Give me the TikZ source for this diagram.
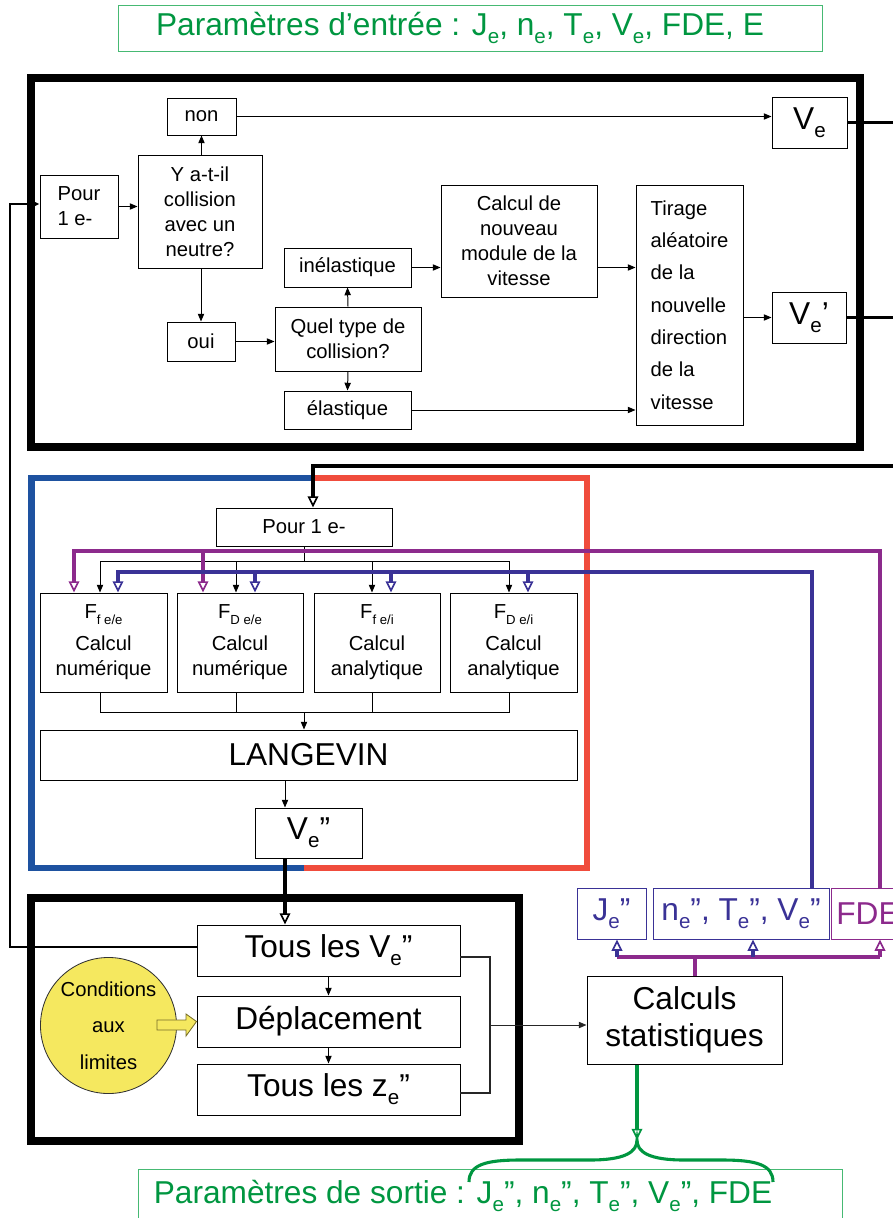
\documentclass[tikz,border=0pt]{standalone}
\usepackage{fontspec}
\setmainfont{Liberation Sans}
\usetikzlibrary{arrows.meta,calc}
\definecolor{tgreen}{RGB}{0,150,64}
\definecolor{bgreen}{RGB}{70,185,115}
\definecolor{cblue}{RGB}{30,82,160}
\definecolor{cred}{RGB}{240,76,60}
\definecolor{cind}{RGB}{58,50,150}
\definecolor{cpur}{RGB}{140,42,140}
\definecolor{cyel}{RGB}{245,232,95}
\definecolor{olive}{RGB}{120,110,40}
\newcommand{\fsm}{\fontsize{14.4}{17.7}\selectfont}
\newcommand{\flg}{\fontsize{22.5}{26}\selectfont}
\newcommand{\sbx}[1]{\raisebox{-0.25em}{\scalebox{0.65}{#1}}}
% \bxn[options]{name}{x1}{y1}{x2}{y2}{text}
\newcommand{\bxn}[7][]{\node[bx,#1,minimum width={(#5-#3)*0.025cm},
  minimum height={(#6-#4)*0.025cm}] (#2) at ({(#3+#5)/2},{(#4+#6)/2}) {#7};}
\begin{document}
\begin{tikzpicture}[x=0.025cm,y=-0.025cm,
  bx/.style={draw, line width=0.7pt, inner sep=0pt, align=center, font=\fsm},
  big/.style={font=\flg},
  ar/.style={line width=0.7pt, -{Triangle[length=5.5pt,width=4.5pt]}},
  otip/.style={-{Triangle[open,length=8pt,width=7.5pt,line width=1.2pt]}},
  thk/.style={line width=2.2pt, otip},
  pl/.style={cpur, line width=2.6pt},
  il/.style={cind, line width=2.6pt},
  pa/.style={pl, otip},
  ia/.style={il, otip},
  frame/.style={line width=5pt, line join=miter}
]
\useasboundingbox (0,0) rectangle (893,1218);

% ---------- title ----------
\bxn[big, draw=bgreen, text=tgreen]{title}{118}{5}{822}{51}
  {Paramètres d’entrée : J\sbx{e}, n\sbx{e}, T\sbx{e}, V\sbx{e}, FDE, E\hspace*{0.5cm}}

% ---------- box 1 ----------
\draw[frame] (31,78) rectangle (860,447);
\bxn{non}{167}{98}{236}{135}{non}
\bxn[big]{ve}{772}{97}{847}{148}{V\sbx{e}}
\bxn[align=left]{pour1}{40}{175}{118}{238}{Pour\\1 e-}
\bxn{yat}{138}{155}{262}{268}{Y a-t-il\\collision\\avec un\\neutre?}
\bxn{inel}{284}{248}{411}{287}{inélastique}
\bxn{calc}{441}{185}{597}{297}{Calcul de\\nouveau\\module de la\\vitesse}
\bxn[align=left, font=\fontsize{14.4}{23}\selectfont]{tir}{636}{185}{743}{425}
  {Tirage\\aléatoire\\de la\\nouvelle\\direction\\de la\\vitesse}
\bxn[big]{vep}{772}{292}{846}{343}{V\sbx{e}’}
\bxn{oui}{167}{322}{235}{361}{oui}
\bxn{quel}{275}{307}{421}{371}{Quel type de\\collision?}
\bxn{elas}{284}{391}{411}{429}{élastique}

\draw[ar] (yat.north -| non.south) -- (non.south);
\draw[ar] (non.east) -- (ve.west |- non.east);
\draw[ar] (pour1.east) -- (yat.west |- pour1.east);
\draw[ar] (yat.south -| oui.north) -- (oui.north);
\draw[ar] (oui.east) -- (quel.west |- oui.east);
\draw[ar] (quel.north) -- (inel.south);
\draw[ar] (quel.south) -- (elas.north);
\draw[ar] (inel.east) -- (calc.west |- inel.east);
\draw[ar] (calc.east |- inel.east) -- (tir.west |- inel.east);
\draw[ar] (elas.east) -- (tir.west |- elas.east);
\draw[ar] (tir.east |- vep.west) -- (vep.west);
\draw[line width=2.8pt] (ve.east) -- ++(60,0);
\draw[line width=2.8pt] (vep.east) -- ++(60,0);

% ---------- blue/red box ----------
\draw[cblue, line width=4.5pt, line join=miter] (313,478) -- (31.5,478) -- (31.5,868) -- (304,868);
\draw[cred, line width=4.5pt, line join=miter] (313,478) -- (587,478) -- (587,868) -- (304,868);

\bxn{pour2}{216}{508}{392}{546}{Pour 1 e-}
\coordinate (c313) at (313,0);
\draw[thk] (900,466) -- (313,466) -- (pour2.north -| c313);

\bxn{fa}{40}{593}{167}{692}{F\sbx{f e/e}\\[5pt]Calcul\\numérique}
\bxn{fb}{177}{593}{303}{692}{F\sbx{D e/e}\\[5pt]Calcul\\numérique}
\bxn{fc}{314}{593}{440}{692}{F\sbx{f e/i}\\[5pt]Calcul\\analytique}
\bxn{fd}{450}{593}{577}{692}{F\sbx{D e/i}\\[5pt]Calcul\\analytique}
\bxn[big]{lang}{40}{730}{577}{780}{LANGEVIN}
\bxn[big]{ve2}{255}{808}{362}{858}{V\sbx{e}”}

% black tree
\coordinate (k1) at (100,0); \coordinate (k2) at (236,0);
\coordinate (k3) at (372,0); \coordinate (k4) at (509,0);
\draw[line width=0.7pt] (pour2.south) -- (304,561);
\draw[line width=0.7pt] (100,561) -- (509,561);
\draw[ar] (100,561) -- (fa.north -| k1);
\draw[ar] (236,561) -- (fb.north -| k2);
\draw[ar] (372,561) -- (fc.north -| k3);
\draw[ar] (509,561) -- (fd.north -| k4);
\draw[line width=0.7pt] (fa.south -| k1) -- (100,712) -- (509,712) -- (fd.south -| k4);
\draw[line width=0.7pt] (fb.south -| k2) -- (236,712);
\draw[line width=0.7pt] (fc.south -| k3) -- (372,712);
\coordinate (c304) at (304,0);
\draw[ar] (304,712) -- (lang.north -| c304);
\coordinate (c285) at (285,0);
\draw[ar] (lang.south -| c285) -- (ve2.north -| c285);

% ---------- right boxes ----------
\bxn[big, draw=cind, text=cind]{J}{577}{888}{646}{939}{J\sbx{e}”}
\bxn[big, draw=cind, text=cind]{nTV}{653}{888}{829}{939}{n\sbx{e}”, T\sbx{e}”, V\sbx{e}”}
\bxn[big, draw=cpur, text=cpur]{fde}{831}{888}{905}{939}{FDE}

% purple and indigo feedback lines
\coordinate (p1) at (74,0); \coordinate (p2) at (203,0); \coordinate (p3) at (880,0);
\coordinate (i1) at (118,0); \coordinate (i2) at (255,0); \coordinate (i3) at (391,0);
\coordinate (i4) at (528,0); \coordinate (i5) at (812,0);
\draw[pa] (fde.north -| p3) -- (880,551) -- (74,551) -- (fa.north -| p1);
\draw[pa] (203,551) -- (fb.north -| p2);
\draw[ia] (nTV.north -| i5) -- (812,572) -- (118,572) -- (fa.north -| i1);
\draw[ia] (255,572) -- (fb.north -| i2);
\draw[ia] (391,572) -- (fc.north -| i3);
\draw[ia] (528,572) -- (fd.north -| i4);

% ---------- box 2 ----------
\draw[frame] (31,898) rectangle (519,1141);
\bxn[big]{tous1}{197}{925}{460}{976}{Tous les V\sbx{e}”}
\bxn[big]{depl}{197}{996}{460}{1047}{Déplacement}
\bxn[big]{tousz}{197}{1064}{460}{1115}{Tous les z\sbx{e}”}
\draw[thk] (ve2.south -| c285) -- (tous1.north -| c285);
\draw[ar] (tous1.south) -- (depl.north);
\draw[ar] (depl.south) -- (tousz.north);
\node[circle, draw=black!80, line width=0.6pt, fill=cyel, minimum size=3.4cm, inner sep=0pt,
  align=center, font=\fontsize{14.4}{26}\selectfont] (circ) at (108.5,1025.5) {Conditions\\aux\\limites};
\draw[olive, fill=cyel, line width=0.6pt] (157,1020) -- (186,1020) -- (186,1014) -- (depl.west) -- (186,1036) -- (186,1030) -- (157,1030) -- cycle;

% feedback to first box
\draw[line width=2pt, -{Triangle[length=6pt,width=5pt]}] (tous1.west |- 0,947) -- (10,947) -- (10,204) -- (pour1.west |- 0,204);

% ---------- statistics ----------
\bxn[font=\fontsize{22.5}{26.5}\selectfont]{stat}{587}{976}{782}{1064}{Calculs\\statistiques}
\draw[line width=0.8pt, black!85] (tous1.east |- 0,957) -- (490,957) -- (490,1093) -- (tousz.east |- 0,1093);
\draw[ar, black!85] (490,1025) -- (stat.west |- 0,1025);
\coordinate (s1) at (695,0); \coordinate (j1) at (617,0); \coordinate (n1) at (753,0);
\draw[pl] (stat.north -| s1) -- (695,957);
\draw[pl] (617,957) -- (880,957);
\draw[ia] (617,957) -- (J.south -| j1);
\draw[ia] (753,957) -- (nTV.south -| n1);
\draw[pa] (880,957) -- (fde.south -| p3);

% ---------- output ----------
\bxn[big, draw=bgreen, text=tgreen]{out}{138}{1169}{842}{1222}
  {Paramètres de sortie : J\sbx{e}”, n\sbx{e}”, T\sbx{e}”, V\sbx{e}”, FDE\hspace*{1.35cm}}
\coordinate (g1) at (637,0);
\draw[tgreen, line width=2.2pt, otip] (stat.south -| g1) -- (637,1140);
\draw[tgreen, line width=2.2pt] (469,1182) .. controls (469,1165) and (485,1160) .. (520,1160) -- (590,1160)
  .. controls (625,1160) and (637,1152) .. (637,1140)
  .. controls (637,1152) and (649,1160) .. (684,1160) -- (722,1160)
  .. controls (757,1160) and (773,1165) .. (773,1182);
\end{tikzpicture}
\end{document}
